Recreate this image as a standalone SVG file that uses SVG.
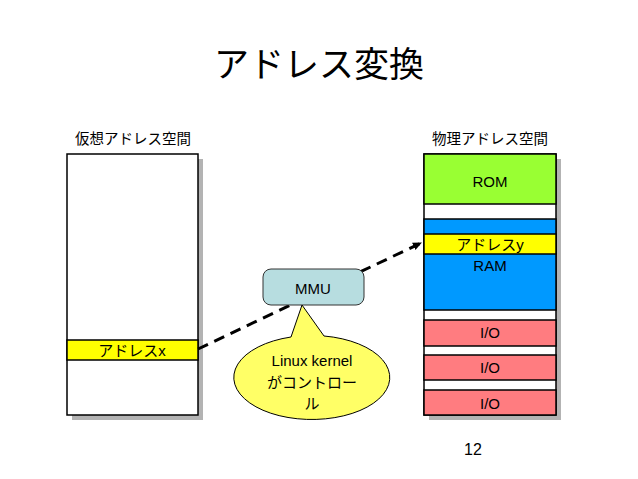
<svg xmlns="http://www.w3.org/2000/svg" width="638" height="479" viewBox="0 0 638 479">
<style>
.t{font-family:"Liberation Sans","Noto Sans CJK JP",sans-serif;fill:#000}
.ln{stroke:#000;stroke-width:1.5}
.shadow{fill:#b3b3b3}
</style>
<defs>
<marker id="ah" markerWidth="10" markerHeight="10" refX="8" refY="5" orient="auto" markerUnits="userSpaceOnUse">
<path d="M0,1 L9,5 L0,9 Z" fill="#000"/>
</marker>
</defs>
<rect width="638" height="479" fill="#fff"/>
<text class="t" x="319" y="77" font-size="35" text-anchor="middle">アドレス変換</text>
<text class="t" x="133" y="144" font-size="14.5" text-anchor="middle">仮想アドレス空間</text>
<text class="t" x="490" y="144" font-size="14.5" text-anchor="middle">物理アドレス空間</text>
<g id="virtual">
<rect class="shadow" x="72" y="159" width="131" height="261"/>
<rect x="67" y="154" width="131" height="261" fill="#fff" class="ln"/>
<rect x="67" y="340" width="131" height="20" fill="#ffff00" class="ln"/>
<text class="t" x="132" y="356" font-size="15" text-anchor="middle">アドレスx</text>
</g>
<g id="physical">
<rect class="shadow" x="429" y="159" width="132" height="261"/>
<rect x="424" y="154" width="132" height="261" fill="#fff" class="ln"/>
<rect x="424" y="154" width="132" height="50" fill="#99ff33" class="ln"/>
<text class="t" x="490" y="187" font-size="15" text-anchor="middle">ROM</text>
<rect x="424" y="219" width="132" height="91" fill="#0099ff" class="ln"/>
<rect x="424" y="234" width="132" height="20" fill="#ffff00" class="ln"/>
<text class="t" x="490" y="250" font-size="15" text-anchor="middle">アドレスy</text>
<text class="t" x="490" y="271" font-size="15" text-anchor="middle">RAM</text>
<rect x="424" y="320" width="132" height="26" fill="#ff7c80" class="ln"/>
<text class="t" x="490" y="338" font-size="15" text-anchor="middle">I/O</text>
<rect x="424" y="355" width="132" height="25" fill="#ff7c80" class="ln"/>
<text class="t" x="490" y="373" font-size="15" text-anchor="middle">I/O</text>
<rect x="424" y="390" width="132" height="25" fill="#ff7c80" class="ln"/>
<text class="t" x="490" y="409" font-size="15" text-anchor="middle">I/O</text>
</g>
<g id="connectors">
<line x1="198" y1="349" x2="421" y2="243" stroke="#000" stroke-width="3" stroke-dasharray="11,7" marker-end="url(#ah)"/>
</g>
<g id="mmu">
<rect x="263" y="269" width="101" height="36" rx="8" fill="#b7dde0" stroke="#333" stroke-width="1"/>
<text class="t" x="313" y="294" font-size="15" text-anchor="middle">MMU</text>
</g>
<g id="callout">
<path d="M291,337 L302,305 L324,336 A78,42 0 1 1 291,337 Z" fill="#ffff66" stroke="#000" stroke-width="1"/>
<text class="t" x="312" y="366" font-size="15" text-anchor="middle">Linux kernel</text>
<text class="t" x="312" y="388" font-size="15" text-anchor="middle">がコントロー</text>
<text class="t" x="312" y="409" font-size="15" text-anchor="middle">ル</text>
</g>
<text class="t" x="473" y="455" font-size="16" text-anchor="middle">12</text>
</svg>
